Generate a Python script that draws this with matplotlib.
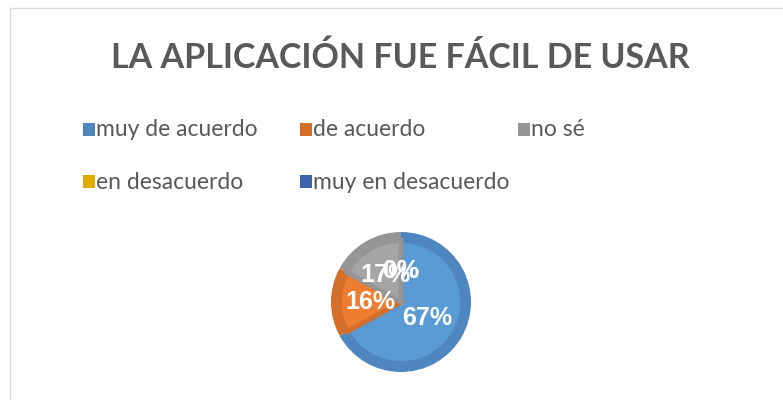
import matplotlib.pyplot as plt
from matplotlib.patches import Rectangle

categories = ["muy de acuerdo", "de acuerdo", "no sé", "en desacuerdo", "muy en desacuerdo"]
values = [67, 16, 17, 0, 0]
colors = ["#5b9bd5", "#ed7d31", "#a5a5a5", "#ffc000", "#4472c4"]
edge_colors = ["#4e86c0", "#d46f2b", "#959595", "#e0aa00", "#3c64ad"]
title = "LA APLICACIÓN FUE FÁCIL DE USAR"

W, H = 783, 400
fig = plt.figure(figsize=(W / 100, H / 100), dpi=100)
fig.patch.set_facecolor("white")

# chart frame
fig.patches.append(Rectangle((10 / W, -0.01), 1.0, (H - 8) / H + 0.01, transform=fig.transFigure,
                             fill=False, edgecolor="#d9d9d9", linewidth=1))

fig.text(400 / W, 1 - 58 / H, title, ha="center", va="center", fontsize=24.5,
         fontweight="bold", color="#595959", family="Lato")

# legend, laid out by hand like the original
pos = [(83, 130), (300, 130), (518, 130), (83, 182), (300, 182)]
for (x, y), lab, c in zip(pos, categories, edge_colors):
    fig.patches.append(Rectangle((x / W, 1 - (y + 6) / H), 12 / W, 13 / H,
                                 transform=fig.transFigure, facecolor=c, edgecolor="none"))
    fig.text((x + 13) / W, 1 - y / H, lab, ha="left", va="center", fontsize=16.5,
             color="#595959", family="Lato")

cx, cy, r = 401, 302, 70
ax = fig.add_axes([(cx - r) / W, (H - cy - r) / H, 2 * r / W, 2 * r / H])
ax.pie(values, colors=edge_colors, startangle=90, counterclock=False, radius=1.0,
       wedgeprops=dict(linewidth=0))
wedges, texts, autotexts = ax.pie(values, colors=colors, startangle=90, counterclock=False,
                                  radius=0.88, autopct="%d%%", pctdistance=0.5,
                                  textprops=dict(color="white", fontsize=18, fontweight="bold",
                                                 family="Liberation Sans"))
for w, ec, v in zip(wedges, edge_colors, values):
    w.set_edgecolor(ec)
    w.set_linewidth(3.5 if v > 0 else 0)
    w.set_joinstyle("miter")
ax.set_xlim(-1, 1)
ax.set_ylim(-1, 1)
ax.set_aspect("equal")
ax.axis("off")

fig.savefig("out.png", dpi=100)
